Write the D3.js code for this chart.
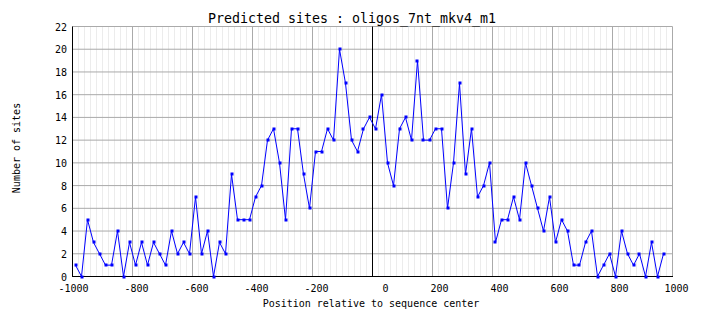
<!DOCTYPE html>
<html>
<head>
<meta charset="utf-8">
<script src="https://cdn.jsdelivr.net/npm/d3@7"></script>
<style>
html,body{margin:0;padding:0;background:#fff;}
svg{display:block;}
text{font-family:"DejaVu Sans Mono",monospace;fill:#000;}
</style>
</head>
<body>
<svg id="chart" width="704" height="328"></svg>
<script>
const positions = [-990,-970,-950,-930,-910,-890,-870,-850,-830,-810,-790,-770,-750,-730,-710,-690,-670,-650,-630,-610,
  -590,-570,-550,-530,-510,-490,-470,-450,-430,-410,-390,-370,-350,-330,-310,-290,-270,-250,-230,-210,
  -190,-170,-150,-130,-110,-90,-70,-50,-30,-10,10,30,50,70,90,110,130,150,170,190,
  210,230,250,270,290,310,330,350,370,390,410,430,450,470,490,510,530,550,570,590,
  610,630,650,670,690,710,730,750,770,790,810,830,850,870,890,910,930,950,970];
const sites = [1,0,5,3,2,1,1,4,0,3,1,3,1,3,2,1,4,2,3,2,
  7,2,4,0,3,2,9,5,5,5,7,8,12,13,10,5,13,13,9,6,
  11,11,13,12,20,17,12,11,13,14,13,16,10,8,13,14,12,19,12,12,
  13,13,6,10,17,9,13,7,8,10,3,5,5,7,5,10,8,6,4,7,
  3,5,4,1,1,3,4,0,1,2,0,4,2,1,2,0,3,0,2];
const xTicks = [-1000,-800,-600,-400,-200,0,200,400,600,800,1000];
const yTicks = [0,2,4,6,8,10,12,14,16,18,20,22];
const minorXTicks = d3.range(-980, 1000, 20);
const title = "Predicted sites : oligos_7nt_mkv4_m1";
const xTitle = "Position relative to sequence center";
const yTitle = "Number of sites";

const svg = d3.select("#chart");
const x = d3.scaleLinear().domain([-1000,1000]).range([72.5,672.5]);
const y = d3.scaleLinear().domain([0,22]).range([276.5,26.5]);

// minor vertical grid
svg.append("g").selectAll("line").data(minorXTicks.filter(v=>xTicks.indexOf(v)<0)).join("line")
  .attr("x1",d=>x(d)).attr("x2",d=>x(d)).attr("y1",y(22)).attr("y2",y(0))
  .attr("stroke","#ececec").attr("stroke-width",1);
// major grid
svg.append("g").selectAll("line").data(xTicks).join("line")
  .attr("x1",d=>x(d)).attr("x2",d=>x(d)).attr("y1",y(22)).attr("y2",y(0))
  .attr("stroke","#aaaaaa").attr("stroke-width",1);
svg.append("g").selectAll("line").data(yTicks).join("line")
  .attr("x1",x(-1000)).attr("x2",x(1000)).attr("y1",d=>y(d)).attr("y2",d=>y(d))
  .attr("stroke","#aaaaaa").attr("stroke-width",1);
// zero line
svg.append("line").attr("x1",x(0)).attr("x2",x(0)).attr("y1",y(22)).attr("y2",y(0))
  .attr("stroke","#000").attr("stroke-width",1);
// axes
svg.append("line").attr("x1",x(-1000)).attr("x2",x(-1000)).attr("y1",y(22)).attr("y2",y(0)+0.5)
  .attr("stroke","#000");
svg.append("line").attr("x1",x(-1000)).attr("x2",x(1000)+0.5).attr("y1",y(0)).attr("y2",y(0))
  .attr("stroke","#000");

// tick labels
svg.append("g").selectAll("text").data(xTicks).join("text")
  .attr("x",d=>x(d)+16).attr("y",292).attr("text-anchor","end")
  .style("font-size","10px").text(d=>d);
svg.append("g").selectAll("text").data(yTicks).join("text")
  .attr("x",67).attr("y",d=>y(d)+4).attr("text-anchor","end")
  .style("font-size","10px").text(d=>d);

// data line
const line = d3.line().x((d,i)=>x(positions[i])).y(d=>y(d));
svg.append("path").datum(sites).attr("d",line).attr("fill","none")
  .attr("stroke","#0000ff").attr("stroke-width",1);
svg.append("g").selectAll("rect").data(sites).join("rect")
  .attr("x",(d,i)=>Math.round(x(positions[i]))-1.5).attr("y",d=>Math.round(y(d))-1.5)
  .attr("width",3).attr("height",3).attr("fill","#0000ff");

// titles
svg.append("text").attr("x",352).attr("y",23).attr("text-anchor","middle")
  .style("font-size","13.3px").text(title);
svg.append("text").attr("x",371).attr("y",307).attr("text-anchor","middle")
  .style("font-size","10px").text(xTitle);
svg.append("text").attr("transform","translate(20,148) rotate(-90)").attr("text-anchor","middle")
  .style("font-size","10px").text(yTitle);
</script>
</body>
</html>
